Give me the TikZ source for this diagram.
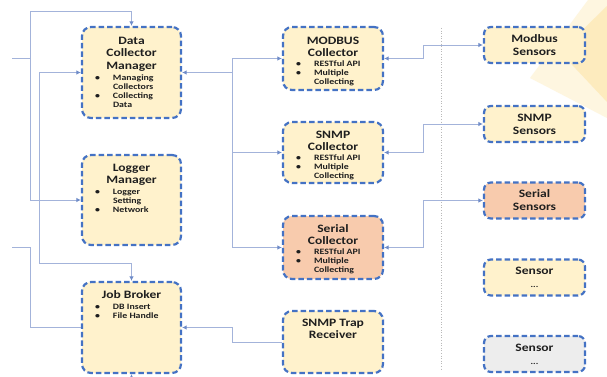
\documentclass[tikz,border=0pt]{standalone}
\usepackage{fontspec}
\setmainfont{Carlito}[FakeStretch=1.2]
\usetikzlibrary{arrows.meta}
\definecolor{bord}{HTML}{4472C4}
\definecolor{yfill}{HTML}{FFF2CC}
\definecolor{ofill}{HTML}{F8CBAD}
\definecolor{gfill}{HTML}{EDEDED}
\definecolor{conncol}{HTML}{A3B3DA}
\definecolor{tipcol}{HTML}{6F8CC9}
\definecolor{bgA}{HTML}{FEF6E0}
\definecolor{bgB}{HTML}{FDEBBE}
\definecolor{txt}{HTML}{1F1F1F}
\newcommand{\ttl}[2][16.5pt]{{\centering\fontsize{11.3}{12.3}\selectfont\bfseries\rule{0pt}{#1}#2\par}}
\newcommand{\itm}[1]{{\fontsize{8.2}{9}\selectfont\bfseries\noindent\hspace*{13pt}\makebox[18pt][l]{•}#1\par}}
\newcommand{\cnt}[1]{{\fontsize{8.2}{9}\selectfont\bfseries\noindent\hspace*{31pt}#1\par}}
\begin{document}
\begin{tikzpicture}[x=1pt,y=-1pt,
  box/.style={draw=bord, line width=2.2pt, dash pattern=on 5.5pt off 3pt, rounded corners=9pt, inner sep=0pt, text=txt},
  sbox/.style={box, rounded corners=7pt, minimum width=101pt, minimum height=36pt, align=center, font=\fontsize{11.3}{13}\selectfont\bfseries},
  cn/.style={draw=conncol, line width=0.9pt},
  tip/.style={-{Latex[length=4.5pt,width=4.5pt,color=tipcol]}},
  tips/.style={{Latex[length=4.5pt,width=4.5pt,color=tipcol]}-{Latex[length=4.5pt,width=4.5pt,color=tipcol]}}]
\useasboundingbox (0,0) rectangle (607,377);
\fill[white] (0,0) rectangle (607,377);
% background decoration
\fill[bgA] (588,0) -- (607,0) -- (607,118) -- (530,78) -- cycle;
\fill[bgB] (607,6) -- (560,52) -- (607,102) -- cycle;
% left column
\node[box, fill=yfill] (dcm) at (131.5,72.5) {\parbox[c][91pt][t]{99pt}{\ttl[17.5pt]{Data\\Collector\\Manager}\vspace{2pt}\itm{Managing}\cnt{Collectors}\itm{Collecting}\cnt{Data}}};
\node[box, fill=yfill] (lgm) at (131.5,200) {\parbox[c][90pt][t]{99pt}{\ttl{Logger\\Manager}\vspace{2pt}\itm{Logger}\cnt{Setting}\itm{Network}}};
\node[box, fill=yfill] (jb) at (131.5,327.5) {\parbox[c][91pt][t]{99pt}{\ttl{Job Broker}\vspace{2pt}\itm{DB Insert}\itm{File Handle}}};
% middle column
\node[box, fill=yfill] (modc) at (333,58.5) {\parbox[c][63pt][t]{100pt}{\ttl[17.5pt]{MODBUS\\Collector}\vspace{1pt}\itm{RESTful API}\itm{Multiple}\cnt{Collecting}}};
\node[box, fill=yfill] (snmpc) at (333,152.5) {\parbox[c][61pt][t]{100pt}{\ttl{SNMP\\Collector}\vspace{1pt}\itm{RESTful API}\itm{Multiple}\cnt{Collecting}}};
\node[box, fill=ofill] (serc) at (333,247.5) {\parbox[c][63pt][t]{100pt}{\ttl{Serial\\Collector}\vspace{1pt}\itm{RESTful API}\itm{Multiple}\cnt{Collecting}}};
\node[box, fill=yfill] (trap) at (333,342) {\parbox[c][62pt][t]{100pt}{\ttl[15.5pt]{SNMP Trap\\Receiver}}};
% right column
\node[sbox, fill=yfill] (mods) at (534.5,45) {Modbus\\Sensors};
\node[sbox, fill=yfill] (snmps) at (534.5,124) {SNMP\\Sensors};
\node[sbox, fill=ofill] (sers) at (534.5,200.5) {Serial\\Sensors};
\node[sbox, fill=yfill] (sen1) at (534.5,277.5) {Sensor\\{\fontsize{8}{13}\selectfont ...}};
\node[sbox, fill=gfill] (sen2) at (534.5,354) {Sensor\\{\fontsize{8}{13}\selectfont ...}};
% dotted divider
\coordinate (d1) at (441,28);
\coordinate (d2) at (441,370);
\draw[gray!55, line width=0.6pt, dotted] (d1) -- (d2);
% left connectors
\coordinate (inA) at (12,58);
\coordinate (a1) at (30,11);
\draw[cn, tip] (inA) -| (a1) -| (dcm.north);
\draw[cn, tip] (inA -| a1) |- (lgm.west);
\coordinate (b2) at (39,263);
\draw[cn, tips] (dcm.west) -| (b2) -| (jb.north);
\coordinate (inC) at (12,247);
\coordinate (c2) at (30,327.5);
\draw[cn] (inC) -| (c2) -- (jb.west);
\coordinate (inD) at (131.5,392);
\draw[cn, tip] (inD) -- (jb.south);
% middle connectors
\coordinate (m1) at (232,0);
\draw[cn, tip] (dcm.east -| m1) -- (dcm.east);
\draw[cn, tip] (dcm.east -| m1) |- (modc.west);
\draw[cn, tip] (dcm.east -| m1) |- (snmpc.west);
\draw[cn, tip] (dcm.east -| m1) |- (serc.west);
\coordinate (t1) at (232,327.5);
\draw[cn, tip] (trap.west) -| (t1) -- (jb.east);
% right connectors
\coordinate (r1) at (423,0);
\draw[cn, tips] (modc.east) -- (modc.east -| r1) |- (mods.west);
\draw[cn, tips] (snmpc.east) -- (snmpc.east -| r1) |- (snmps.west);
\draw[cn, tips] (serc.east) -- (serc.east -| r1) |- (sers.west);
\end{tikzpicture}
\end{document}
